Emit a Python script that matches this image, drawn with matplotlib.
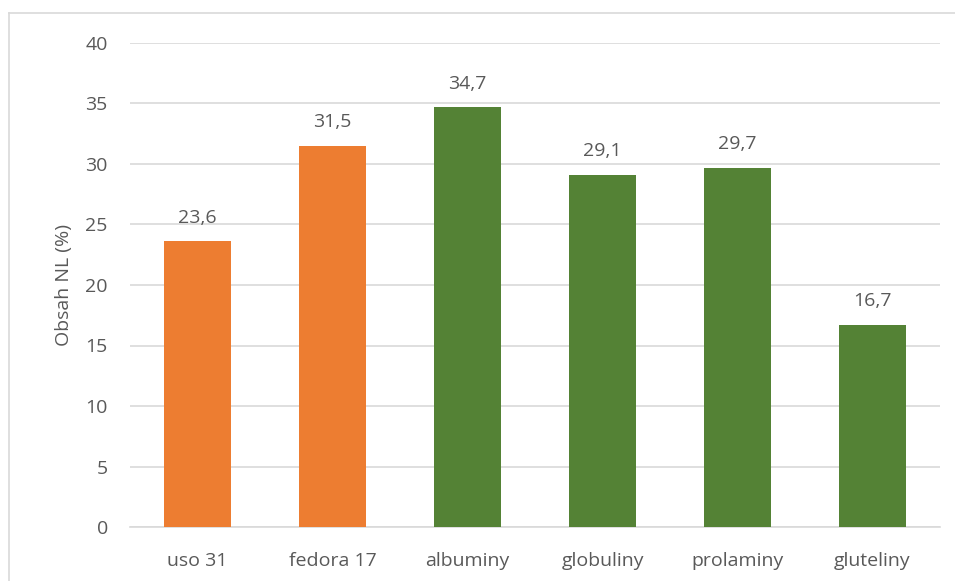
import matplotlib.pyplot as plt
from matplotlib.lines import Line2D

categories = ["uso 31", "fedora 17", "albuminy", "globuliny", "prolaminy", "gluteliny"]
values = [23.6, 31.5, 34.7, 29.1, 29.7, 16.7]
bar_colors = ["#ED7D31", "#ED7D31", "#548235", "#548235", "#548235", "#548235"]
yticks = [0, 5, 10, 15, 20, 25, 30, 35, 40]

text_color = "#595959"
grid_color = "#D9D9D9"

plt.rcParams["font.family"] = ["Open Sans", "DejaVu Sans"]

fig = plt.figure(figsize=(9.55, 5.81), dpi=100)
ax = fig.add_axes([130 / 955, 1 - 527 / 581, 810 / 955, 484 / 581])

x = range(len(categories))
bars = ax.bar(x, values, width=0.5, color=bar_colors, zorder=3)

for b, v in zip(bars, values):
    ax.text(b.get_x() + b.get_width() / 2, v + 1.2, f"{v:.1f}".replace(".", ","),
            ha="center", va="bottom", fontsize=14, color=text_color)

ax.set_xlim(-0.5, len(categories) - 0.5)
ax.set_ylim(0, 40)
ax.set_yticks(yticks)
ax.set_xticks(list(x))
ax.set_xticklabels(categories)
ax.tick_params(axis="both", length=0, labelsize=14, labelcolor=text_color)
ax.tick_params(axis="y", pad=16)
ax.tick_params(axis="x", pad=18)
ax.grid(axis="y", color=grid_color, linewidth=1.2, zorder=0)
for side in ["top", "right", "left"]:
    ax.spines[side].set_visible(False)
ax.spines["bottom"].set_color(grid_color)
ax.spines["bottom"].set_linewidth(1.2)

ax.set_ylabel("Obsah NL (%)", fontsize=14, color=text_color, labelpad=9)

# outer chart frame, left and top edges only
fig.add_artist(Line2D([9 / 955, 9 / 955], [0, 1 - 13 / 581], transform=fig.transFigure,
                      color=grid_color, linewidth=1.2))
fig.add_artist(Line2D([9 / 955, 1], [1 - 13 / 581, 1 - 13 / 581], transform=fig.transFigure,
                      color=grid_color, linewidth=1.2))

fig.savefig("out.png", dpi=100)
